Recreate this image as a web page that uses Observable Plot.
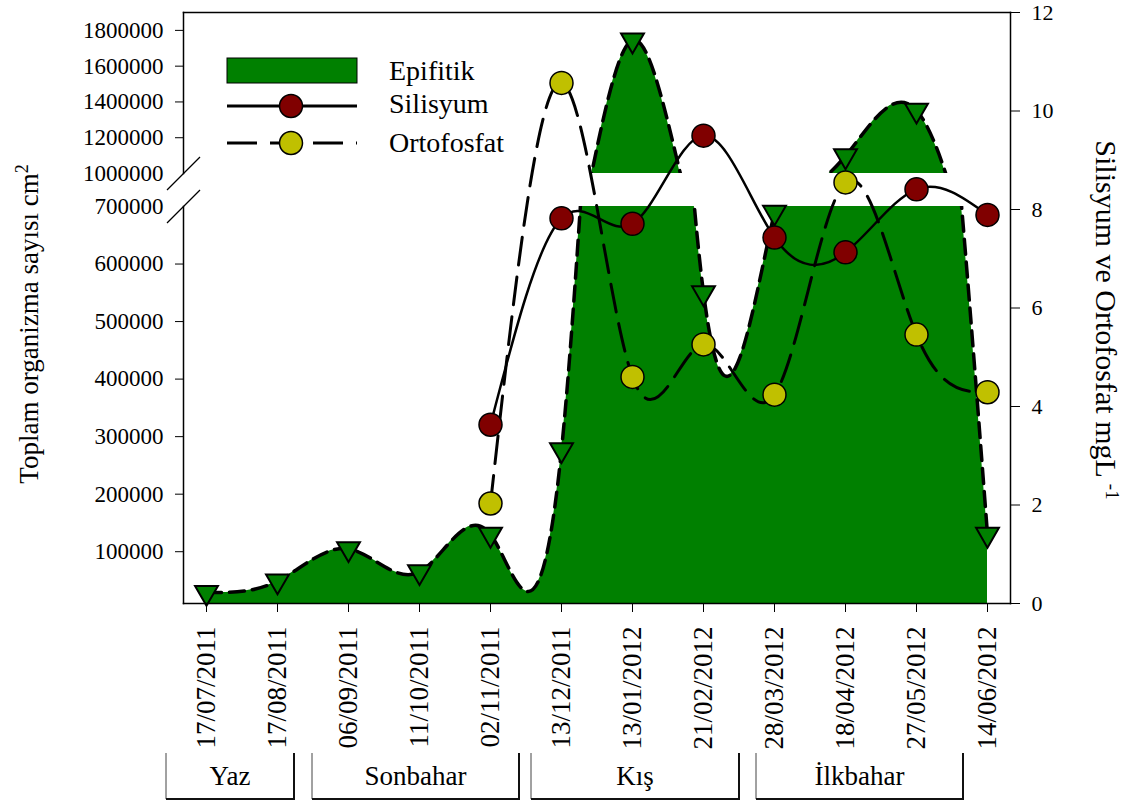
<!DOCTYPE html>
<html><head><meta charset="utf-8">
<script src="https://cdn.jsdelivr.net/npm/d3@7"></script>
<script src="https://cdn.jsdelivr.net/npm/@observablehq/plot@0.6"></script>
<style>
body{margin:0;background:#fff;}
#chart{position:relative;width:1142px;height:805px;font-family:"Liberation Serif","Times New Roman",serif;}
#chart > svg{position:absolute;left:0;top:0;}
</style></head><body><div id="chart"></div>
<script>
// ---- data ----
const dates = ["17/07/2011","17/08/2011","06/09/2011","11/10/2011","02/11/2011","13/12/2011",
               "13/01/2012","21/02/2012","28/03/2012","18/04/2012","27/05/2012","14/06/2012"];
const epifitik = [29000, 49000, 105000, 65000, 130000, 277000, 1745000, 550000, 690000, 1098000, 1353000, 130000];
const silisyum = [null, null, null, null, 3.63, 7.82, 7.71, 9.50, 7.43, 7.13, 8.41, 7.89];
const ortofosfat = [null, null, null, null, 2.03, 10.57, 4.60, 5.26, 4.24, 8.55, 5.46, 4.29];
const seasons = ["Yaz", "Sonbahar", "Kış", "İlkbahar"];
const upperTicks = [1000000, 1200000, 1400000, 1600000, 1800000];
const lowerTicks = [100000, 200000, 300000, 400000, 500000, 600000, 700000];
const rightTicks = [0, 2, 4, 6, 8, 10, 12];
const seriesNames = ["Epifitik", "Silisyum", "Ortofosfat"];
const leftTitle = "Toplam organizma sayısı cm";
const rightTitle = "Silisyum ve Ortofosfat mgL";

// ---- layout ----
const W = 1142, H = 805;
const FONT = "Liberation Serif, Times New Roman, serif";
const GREEN = "#008000", RED = "#800000", YEL = "#c0c000";
const frameL = 183, frameR = 132, frameT = 12, frameB = 202;
const xRange = [204, 989];
const seasonBoxes = [[166, 294], [312, 519], [531, 739], [756, 963]];

const rows = dates.map((d, i) => ({date: d, epi: epifitik[i], si: silisyum[i], of: ortofosfat[i]}));
const fmt = d => String(d);
const slash = {draw(ctx, size) { const r = Math.sqrt(size / Math.PI); ctx.moveTo(-r, r); ctx.lineTo(r, -r); }};
const xOpt = {type: "point", domain: dates, range: xRange, padding: 0};
const chart = document.getElementById("chart");

function panel(domain, top, bottom, ticks, breakVal, filt) {
  return Plot.plot({
    width: W, height: H, marginTop: top, marginBottom: bottom, marginLeft: frameL, marginRight: frameR,
    style: {background: "transparent", fontFamily: FONT, color: "black"},
    x: {...xOpt, axis: null},
    y: {domain, axis: null},
    marks: [
      Plot.areaY(rows, {x: "date", y: "epi", curve: "natural", fill: GREEN, clip: true}),
      Plot.line(rows, {x: "date", y: "epi", curve: "natural", stroke: "black", strokeWidth: 3.5, strokeDasharray: "15,8", clip: true}),
      Plot.dot(rows.filter(filt), {x: "date", y: "epi", symbol: "triangle", rotate: 180, r: 8.5, fill: GREEN, stroke: "black", strokeWidth: 2}),
      Plot.frame({anchor: "left", stroke: "black", strokeWidth: 1.5}),
      Plot.axisY({ticks: ticks.filter(t => t !== breakVal), tickSize: 8, tickFormat: () => "", label: null}),
      Plot.axisY({ticks, tickSize: 0, tickPadding: 20, fontSize: 23, tickFormat: fmt, label: null}),
      Plot.dot([breakVal], {y: d => d, frameAnchor: "left", symbol: slash, r: 16.5, fill: "none", stroke: "black", strokeWidth: 1.3})
    ]
  });
}

const upper = panel([1000000, 1900000], frameT, H - 173, upperTicks, 1000000, d => d.epi >= 1000000);
const lower = panel([10000, 700000], 206, frameB, lowerTicks, 700000, d => d.epi <= 700000);

const main = Plot.plot({
  width: W, height: H, marginTop: frameT, marginBottom: frameB, marginLeft: frameL, marginRight: frameR,
  style: {background: "transparent", fontFamily: FONT, color: "black"},
  x: xOpt,
  y: {domain: [0, 12]},
  marks: [
    Plot.frame({anchor: "top", stroke: "black", strokeWidth: 1.5}),
    Plot.frame({anchor: "right", stroke: "black", strokeWidth: 1.5}),
    Plot.frame({anchor: "bottom", stroke: "black", strokeWidth: 1.5}),
    Plot.axisX({tickRotate: -90, tickSize: 9, tickPadding: 14, fontSize: 27, label: null}),
    Plot.axisY({anchor: "right", ticks: rightTicks, tickSize: 9, tickPadding: 12, fontSize: 22, label: null}),
    Plot.line(rows, {x: "date", y: "si", curve: "natural", stroke: "black", strokeWidth: 2.5}),
    Plot.line(rows, {x: "date", y: "of", curve: "natural", stroke: "black", strokeWidth: 3, strokeDasharray: "28,12"}),
    Plot.dot(rows, {x: "date", y: "of", r: 11.5, fill: YEL, stroke: "black", strokeWidth: 1.5}),
    Plot.dot(rows, {x: "date", y: "si", r: 11.5, fill: RED, stroke: "black", strokeWidth: 1.5}),
    Plot.text([leftTitle], {frameAnchor: "left", textAnchor: "middle", rotate: -90, dx: -146, dy: 16, fontSize: 27, lineAnchor: "bottom", className: "ltitle"}),
    Plot.text([rightTitle], {frameAnchor: "right", textAnchor: "middle", rotate: 90, dx: 85, dy: 12, fontSize: 30, lineAnchor: "bottom", className: "rtitle"})
  ]
});

function addSup(svg, cls, txt, size, dx) {
  const t = svg.querySelector("." + cls + " text");
  if (!t) return;
  const ts = document.createElementNS("http://www.w3.org/2000/svg", "tspan");
  ts.setAttribute("baseline-shift", "super");
  ts.setAttribute("font-size", size);
  if (dx) ts.setAttribute("dx", dx);
  ts.textContent = txt;
  t.appendChild(ts);
}
addSup(main, "ltitle", "2", 18, 0);
addSup(main, "rtitle", "-1", 19, 6);

chart.appendChild(upper);
chart.appendChild(lower);
chart.appendChild(main);

// legend + season boxes (layout overlay)
const ov = d3.select(chart).append("svg").attr("width", W).attr("height", H)
  .style("font-family", FONT);
const lg = ov.append("g");
lg.append("rect").attr("x", 227).attr("y", 58).attr("width", 130).attr("height", 25)
  .attr("fill", GREEN).attr("stroke", "black").attr("stroke-width", 1);
lg.append("line").attr("x1", 227).attr("x2", 357).attr("y1", 106).attr("y2", 106)
  .attr("stroke", "black").attr("stroke-width", 3);
lg.append("circle").attr("cx", 291).attr("cy", 106).attr("r", 11.5).attr("fill", RED).attr("stroke", "black").attr("stroke-width", 1.5);
lg.append("line").attr("x1", 227).attr("x2", 357).attr("y1", 143).attr("y2", 143)
  .attr("stroke", "black").attr("stroke-width", 3).attr("stroke-dasharray", "30,13");
lg.append("circle").attr("cx", 291).attr("cy", 143).attr("r", 11.5).attr("fill", YEL).attr("stroke", "black").attr("stroke-width", 1.5);
seriesNames.forEach((n, i) => {
  lg.append("text").attr("x", 389).attr("y", [80, 113, 152][i]).attr("font-size", 28).text(n);
});
seasons.forEach((s, i) => {
  const [a, b] = seasonBoxes[i];
  const g = ov.append("g");
  g.append("line").attr("x1", a).attr("x2", a).attr("y1", 753).attr("y2", 799).attr("stroke", "#444").attr("stroke-width", 1);
  g.append("line").attr("x1", b).attr("x2", b).attr("y1", 753).attr("y2", 800).attr("stroke", "#111").attr("stroke-width", 2);
  g.append("line").attr("x1", a).attr("x2", b + 1).attr("y1", 799).attr("y2", 799).attr("stroke", "#111").attr("stroke-width", 2);
  g.append("text").attr("x", (a + b) / 2).attr("y", 785).attr("text-anchor", "middle").attr("font-size", 27).text(s);
});
</script></body></html>
